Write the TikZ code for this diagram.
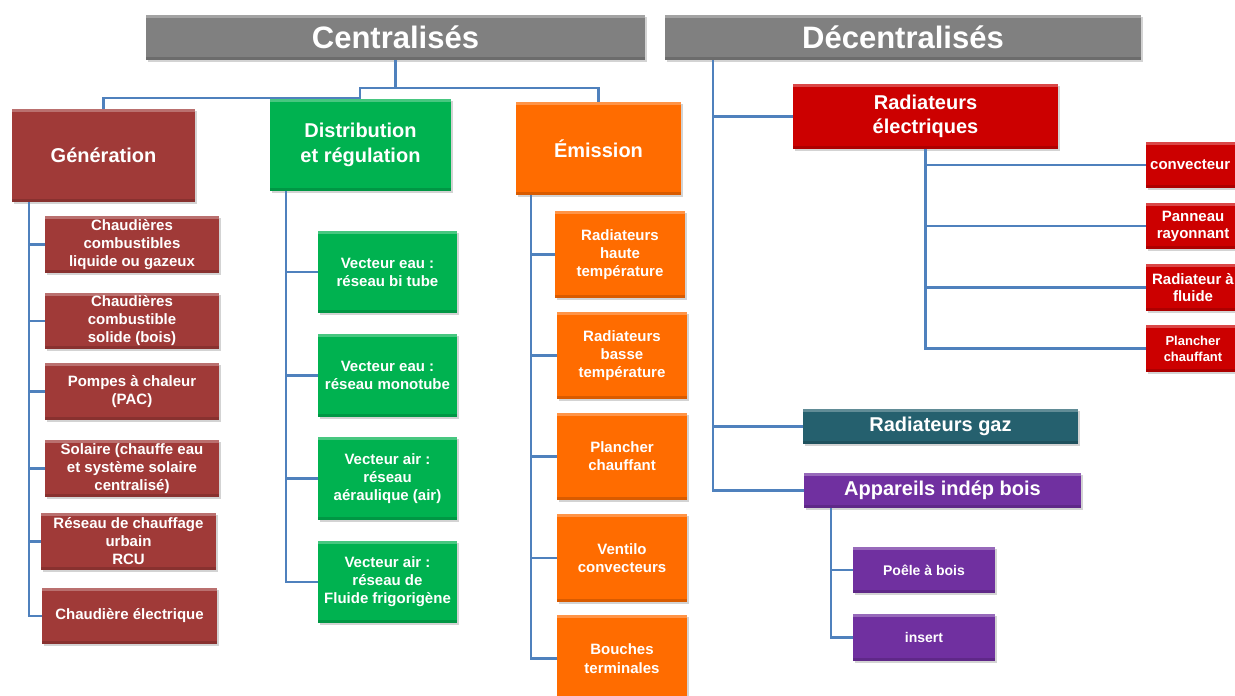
\documentclass[tikz,border=0pt]{standalone}
\usepackage{fontspec}
\setmainfont{Liberation Sans}
\usetikzlibrary{shadows}
\definecolor{hdr}{RGB}{128,128,128}
\definecolor{gen}{RGB}{160,58,56}
\definecolor{grn}{RGB}{0,178,80}
\definecolor{org}{RGB}{255,108,0}
\definecolor{red}{RGB}{204,0,0}
\definecolor{teal}{RGB}{37,96,110}
\definecolor{purp}{RGB}{112,48,160}
\definecolor{link}{RGB}{79,129,189}
\tikzset{
  bx/.style={rectangle, fill=#1, draw=none, text=white, align=center, inner sep=1pt,
    font=\bfseries,
    drop shadow={shadow xshift=2pt, shadow yshift=-2pt, opacity=0.35},
    path picture={
      \fill[white,opacity=0.28] (path picture bounding box.north west) rectangle ([yshift=-3pt]path picture bounding box.north east);
      \fill[black,opacity=0.15] (path picture bounding box.south west) rectangle ([yshift=3pt]path picture bounding box.south east);
    }},
  sz/.style 2 args={minimum width=#1, minimum height=#2},
  fs/.style 2 args={font=\bfseries\fontsize{#1}{#2}\selectfont},
  conn/.style={draw=link, line width=2.6pt}
}
\begin{document}
\begin{tikzpicture}[x=1pt,y=-1pt]
\useasboundingbox (0,0) rectangle (1235,696);
\clip (0,0) rectangle (1235,696);
% headers
\node[bx=hdr, sz={499}{45}, fs={31}{34}] (cent) at (395.5,37.5) {Centralisés};
\node[bx=hdr, sz={476}{45}, fs={31}{34}] (decent) at (903,37.5) {Décentralisés};
% level 1
\node[bx=gen, sz={183}{93}, fs={20}{25}] (gen) at (103.5,155.5) {Génération};
\node[bx=grn, sz={181}{92}, fs={20}{25}] (dist) at (360.5,145) {Distribution\\et régulation};
\node[bx=org, sz={165}{93}, fs={20}{25}] (emis) at (598.5,148.5) {Émission};
% generation children
\node[bx=gen, sz={174}{57}, fs={15}{18}] (g1) at (132,244.5) {Chaudières\\combustibles\\liquide ou gazeux};
\node[bx=gen, sz={174}{56}, fs={15}{18}] (g2) at (132,321) {Chaudières\\combustible\\solide (bois)};
\node[bx=gen, sz={174}{57}, fs={15}{18}] (g3) at (132,391.5) {Pompes à chaleur\\(PAC)};
\node[bx=gen, sz={174}{57}, fs={15}{18}] (g4) at (132,468.5) {Solaire (chauffe eau\\et système solaire\\centralisé)};
\node[bx=gen, sz={175}{57}, fs={15}{18}] (g5) at (128.5,541.5) {Réseau de chauffage\\urbain\\RCU};
\node[bx=gen, sz={175}{56}, fs={15}{18}] (g6) at (129.5,616) {Chaudière électrique};
% distribution children
\node[bx=grn, sz={139}{82}, fs={15}{18}] (d1) at (387.5,272) {Vecteur eau :\\réseau bi tube};
\node[bx=grn, sz={139}{83}, fs={15}{18}] (d2) at (387.5,375.5) {Vecteur eau :\\réseau monotube};
\node[bx=grn, sz={139}{83}, fs={15}{18}] (d3) at (387.5,478.5) {Vecteur air :\\réseau\\aéraulique (air)};
\node[bx=grn, sz={139}{82}, fs={15}{18}] (d4) at (387.5,582) {Vecteur air :\\réseau de\\Fluide frigorigène};
% emission children
\node[bx=org, sz={130}{87}, fs={15}{18}] (e1) at (620,254.5) {Radiateurs\\haute\\température};
\node[bx=org, sz={130}{87}, fs={15}{18}] (e2) at (622,355.5) {Radiateurs\\basse\\température};
\node[bx=org, sz={130}{87}, fs={15}{18}] (e3) at (622,456.5) {Plancher\\chauffant};
\node[bx=org, sz={130}{88}, fs={15}{18}] (e4) at (622,558) {Ventilo\\convecteurs};
\node[bx=org, sz={130}{87}, fs={15}{19}] (e5) at (622,658.5) {Bouches\\terminales};
% decentralised
\node[bx=red, sz={265}{65}, fs={20}{24}] (re) at (925.5,116.5) {Radiateurs\\électriques};
\node[bx=red, sz={94}{46}, fs={15}{18}] (r1) at (1193,165) {};
\node[fs={15}{18}, text=white, anchor=west, inner sep=0pt] (r1t) at (1150,165) {convecteur};
\node[bx=red, sz={94}{46}, fs={15}{17}] (r2) at (1193,226) {Panneau\\rayonnant};
\node[bx=red, sz={94}{47}, fs={15}{17}] (r3) at (1193,287.5) {Radiateur à\\fluide};
\node[bx=red, sz={94}{47}, fs={13}{16}] (r4) at (1193,348.5) {Plancher\\chauffant};
\node[bx=teal, sz={275}{35}, fs={20}{24}] (gaz) at (940.5,426.5) {Radiateurs gaz};
\node[bx=purp, sz={277}{35}, fs={20}{24}] (app) at (942.5,490.5) {Appareils indép bois};
\node[bx=purp, sz={142}{46}, fs={14}{17}] (p1) at (924,570) {Poêle à bois};
\node[bx=purp, sz={142}{47}, fs={14}{17}] (p2) at (924,637.5) {insert};
% connectors
\coordinate (hub) at (395.5,88);
\coordinate (hubA) at (360,88);
\coordinate (hubB) at (360,98);
\draw[conn] (cent.south) -- (hub) -| (emis.north);
\draw[conn] (hub) -- (hubA) -- (hubB) -| (gen.north);
\foreach \n in {g1,g2,g3,g4,g5,g6} \draw[conn] ([xshift=17pt]gen.south west) |- (\n.west);
\foreach \n in {d1,d2,d3,d4} \draw[conn] ([xshift=16pt]dist.south west) |- (\n.west);
\foreach \n in {e1,e2,e3,e4,e5} \draw[conn] ([xshift=15pt]emis.south west) |- (\n.west);
\foreach \n in {re,gaz,app} \draw[conn] ([xshift=48pt]decent.south west) |- (\n.west);
\foreach \n in {r1,r2,r3,r4} \draw[conn] (re.south) |- (\n.west);
\foreach \n in {p1,p2} \draw[conn] ([xshift=27pt]app.south west) |- (\n.west);
\end{tikzpicture}
\end{document}
